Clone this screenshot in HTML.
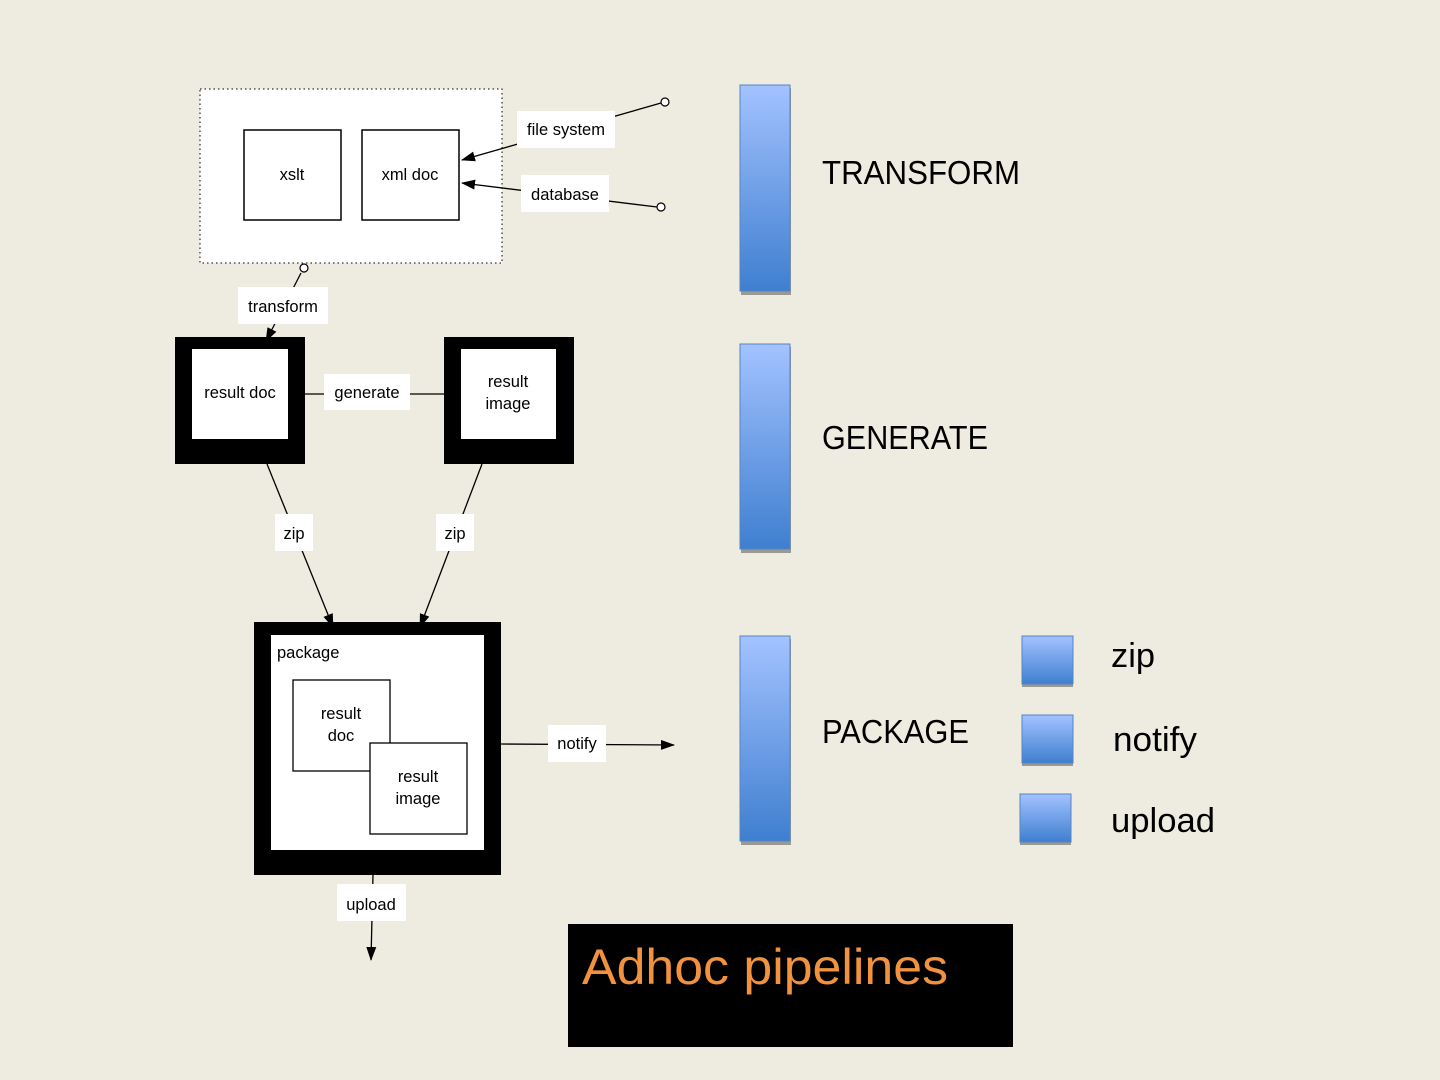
<!DOCTYPE html>
<html><head><meta charset="utf-8"><style>
html,body{margin:0;padding:0;background:#eeebe0;}
svg{display:block;font-family:"Liberation Sans",sans-serif;}
</style></head><body>
<svg width="1440" height="1080" viewBox="0 0 1440 1080" xmlns="http://www.w3.org/2000/svg">
<defs>
<linearGradient id="g" x1="0" y1="0" x2="0" y2="1">
<stop offset="0" stop-color="#a3c2ff"/><stop offset="1" stop-color="#3f7fd0"/>
</linearGradient>
<marker id="a" markerWidth="14" markerHeight="10" refX="13" refY="5" orient="auto" markerUnits="userSpaceOnUse">
<path d="M0,0 L14,5 L0,10 z" fill="#000"/></marker>
</defs>
<rect width="1440" height="1080" fill="#eeebe0"/>

<rect x="200" y="89" width="302" height="174" fill="#fff" stroke="#000" stroke-width="1" stroke-dasharray="1.5,3"/>
<rect x="244" y="130" width="97" height="90" fill="#fff" stroke="#000" stroke-width="1.5"/>
<text x="292" y="180" font-size="16.5" text-anchor="middle">xslt</text>
<rect x="362" y="130" width="97" height="90" fill="#fff" stroke="#000" stroke-width="1.5"/>
<text x="410" y="180" font-size="16.5" text-anchor="middle">xml doc</text>

<line x1="661" y1="103" x2="462" y2="160" stroke="#000" stroke-width="1.3" marker-end="url(#a)"/>
<circle cx="665" cy="102" r="4" fill="#fff" stroke="#000" stroke-width="1.2"/>
<rect x="517" y="111" width="98" height="37" fill="#fff"/>
<text x="566" y="135" font-size="16.5" text-anchor="middle">file system</text>
<line x1="657" y1="207" x2="462" y2="183" stroke="#000" stroke-width="1.3" marker-end="url(#a)"/>
<circle cx="661" cy="207" r="4" fill="#fff" stroke="#000" stroke-width="1.2"/>
<rect x="521" y="175" width="88" height="37" fill="#fff"/>
<text x="565" y="200" font-size="16.5" text-anchor="middle">database</text>

<line x1="301" y1="273" x2="266" y2="341" stroke="#000" stroke-width="1.3" marker-end="url(#a)"/>
<circle cx="304" cy="268" r="4" fill="#fff" stroke="#000" stroke-width="1.2"/>
<rect x="238" y="287" width="90" height="37" fill="#fff"/>
<text x="283" y="312" font-size="16.5" text-anchor="middle">transform</text>

<rect x="175" y="337" width="130" height="127" fill="#000"/>
<rect x="192" y="349" width="96" height="90" fill="#fff"/>
<text x="240" y="398" font-size="16.5" text-anchor="middle">result doc</text>
<rect x="444" y="337" width="130" height="127" fill="#000"/>
<rect x="461" y="349" width="95" height="90" fill="#fff"/>
<text x="508" y="387" font-size="16.5" text-anchor="middle">result</text>
<text x="508" y="409" font-size="16.5" text-anchor="middle">image</text>

<line x1="305" y1="394" x2="444" y2="394" stroke="#000" stroke-width="1.3"/>
<rect x="324" y="374" width="86" height="36" fill="#fff"/>
<text x="367" y="398" font-size="16.5" text-anchor="middle">generate</text>

<line x1="267" y1="464" x2="333" y2="627" stroke="#000" stroke-width="1.3" marker-end="url(#a)"/>
<rect x="275" y="514" width="38" height="37" fill="#fff"/>
<text x="294" y="539" font-size="16.5" text-anchor="middle">zip</text>
<line x1="482" y1="464" x2="420" y2="627" stroke="#000" stroke-width="1.3" marker-end="url(#a)"/>
<rect x="436" y="514" width="38" height="37" fill="#fff"/>
<text x="455" y="539" font-size="16.5" text-anchor="middle">zip</text>

<rect x="254" y="622" width="247" height="253" fill="#000"/>
<rect x="271" y="635" width="213" height="215" fill="#fff"/>
<text x="277" y="658" font-size="16.5">package</text>
<rect x="293" y="680" width="97" height="91" fill="#fff" stroke="#000" stroke-width="1.3"/>
<text x="341" y="719" font-size="16.5" text-anchor="middle">result</text>
<text x="341" y="741" font-size="16.5" text-anchor="middle">doc</text>
<rect x="370" y="743" width="97" height="91" fill="#fff" stroke="#000" stroke-width="1.3"/>
<text x="418" y="782" font-size="16.5" text-anchor="middle">result</text>
<text x="418" y="804" font-size="16.5" text-anchor="middle">image</text>

<line x1="501" y1="744" x2="674" y2="745" stroke="#000" stroke-width="1.3" marker-end="url(#a)"/>
<rect x="548" y="725" width="58" height="37" fill="#fff"/>
<text x="577" y="749" font-size="16.5" text-anchor="middle">notify</text>
<line x1="373" y1="875" x2="371" y2="960" stroke="#000" stroke-width="1.3" marker-end="url(#a)"/>
<rect x="337" y="884" width="69" height="37" fill="#fff"/>
<text x="371" y="910" font-size="16.5" text-anchor="middle">upload</text>

<rect x="741" y="88" width="50" height="207" fill="#9a9a92"/>
<rect x="740" y="85" width="50" height="206" fill="url(#g)" stroke="#5584c4" stroke-width="1"/>
<rect x="741" y="347" width="50" height="206" fill="#9a9a92"/>
<rect x="740" y="344" width="50" height="205" fill="url(#g)" stroke="#5584c4" stroke-width="1"/>
<rect x="741" y="639" width="50" height="206" fill="#9a9a92"/>
<rect x="740" y="636" width="50" height="205" fill="url(#g)" stroke="#5584c4" stroke-width="1"/>

<text x="822" y="184" font-size="33" textLength="198" lengthAdjust="spacingAndGlyphs">TRANSFORM</text>
<text x="822" y="449" font-size="33" textLength="166" lengthAdjust="spacingAndGlyphs">GENERATE</text>
<text x="822" y="743" font-size="33" textLength="147" lengthAdjust="spacingAndGlyphs">PACKAGE</text>

<rect x="1022" y="639" width="51" height="48" fill="#9a9a92"/>
<rect x="1022" y="636" width="51" height="48" fill="url(#g)" stroke="#5584c4" stroke-width="1"/>
<rect x="1022" y="718" width="51" height="48" fill="#9a9a92"/>
<rect x="1022" y="715" width="51" height="48" fill="url(#g)" stroke="#5584c4" stroke-width="1"/>
<rect x="1020" y="797" width="51" height="48" fill="#9a9a92"/>
<rect x="1020" y="794" width="51" height="48" fill="url(#g)" stroke="#5584c4" stroke-width="1"/>
<text x="1111" y="667" font-size="34" textLength="44" lengthAdjust="spacingAndGlyphs">zip</text>
<text x="1113" y="751" font-size="34" textLength="84" lengthAdjust="spacingAndGlyphs">notify</text>
<text x="1111" y="832" font-size="34" textLength="104" lengthAdjust="spacingAndGlyphs">upload</text>

<rect x="568" y="924" width="445" height="123" fill="#000"/>
<text x="582" y="984" font-size="50" fill="#f0923e" textLength="366" lengthAdjust="spacingAndGlyphs">Adhoc pipelines</text>
</svg>
</body></html>
